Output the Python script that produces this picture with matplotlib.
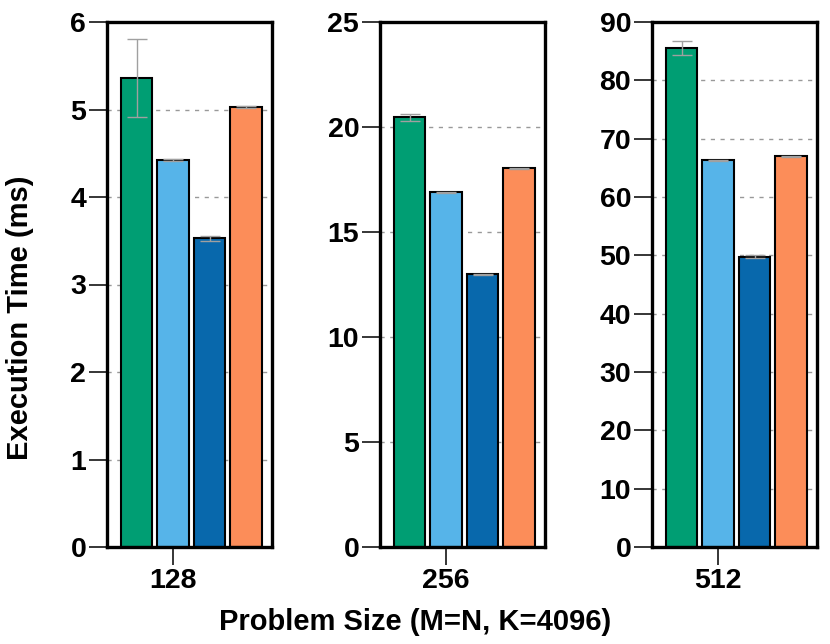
import matplotlib
matplotlib.use("Agg")
import matplotlib.pyplot as plt
import numpy as np

plt.rcParams['font.family'] = ['Liberation Sans', 'DejaVu Sans']
plt.rcParams['font.weight'] = 'bold'

sizes = ['128', '256', '512']
series_names = ['Impl A', 'Impl B', 'Impl C', 'Impl D']
colors = ['#009E73', '#56B4E9', '#0868AC', '#FC8D59']

impl_a = [5.36, 20.46, 85.54]
impl_b = [4.42, 16.89, 66.29]
impl_c = [3.53, 12.99, 49.77]
impl_d = [5.03, 18.03, 66.97]

err_a = [0.44, 0.18, 1.15]
err_b = [0.01, 0.03, 0.10]
err_c = [0.03, 0.03, 0.30]
err_d = [0.01, 0.04, 0.10]

y_max = [6, 25, 90]
y_step = [1, 5, 10]

values = [impl_a, impl_b, impl_c, impl_d]
errors = [err_a, err_b, err_c, err_d]

fig = plt.figure(figsize=(8.3, 6.44), dpi=100)
lefts = [107/830, 380/830, 652/830]
bottom = 1 - 547/644
height = (547 - 22) / 644
width = 165/830

offsets = [-1, 0, 1, 2]
bw = 0.86
for p in range(3):
    ax = fig.add_axes([lefts[p], bottom, width, height])
    for i in range(4):
        ax.bar(offsets[i], values[i][p], width=bw, color=colors[i],
               edgecolor='black', linewidth=1.5, zorder=3)
        ax.errorbar(offsets[i], values[i][p], yerr=errors[i][p], fmt='none',
                    ecolor='#a0a0a0', elinewidth=1.0, capsize=7, capthick=1.0,
                    zorder=4)
    ax.set_xlim(-1.81, 2.71)
    ax.set_ylim(0, y_max[p])
    ax.set_yticks(np.arange(0, y_max[p] + 0.1, y_step[p]))
    ax.set_xticks([0])
    ax.set_xticklabels([sizes[p]])
    ax.grid(axis='y', color='#999999', linestyle=(0, (3, 4)), linewidth=1.0,
            zorder=0)
    ax.set_axisbelow(True)
    for s in ax.spines.values():
        s.set_linewidth(2.4)
        s.set_zorder(5)
    ax.tick_params(axis='both', direction='out', length=13, width=1.1,
                   labelsize=20.5, pad=2)
    for lab in ax.get_xticklabels() + ax.get_yticklabels():
        lab.set_fontweight('bold')

fig.text(0.5, 1 - 622/644, 'Problem Size (M=N, K=4096)', ha='center',
         va='center', fontsize=21, fontweight='bold')
fig.text(20/830, 1 - 318/644, 'Execution Time (ms)', ha='center', va='center',
         rotation=90, fontsize=21, fontweight='bold')

fig.savefig('out.png', dpi=100)
